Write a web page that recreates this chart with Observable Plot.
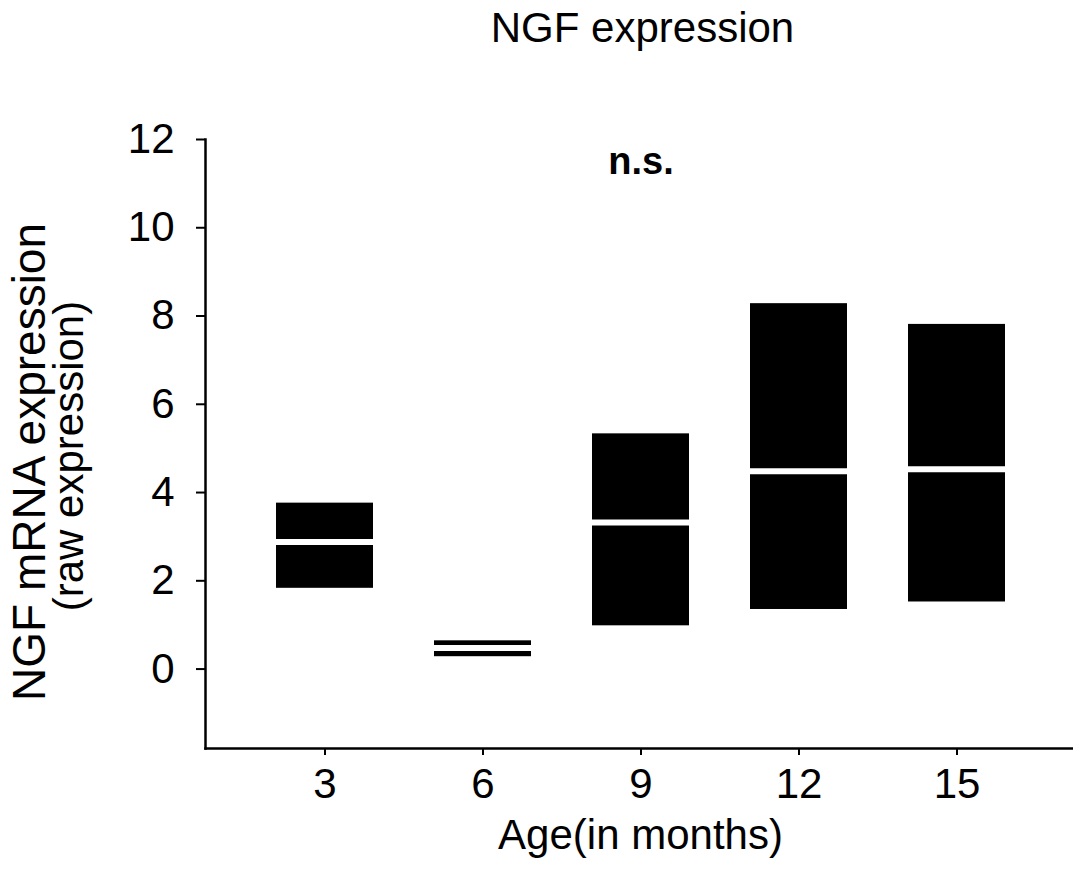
<!DOCTYPE html>
<html>
<head>
<meta charset="utf-8">
<script src="https://cdn.jsdelivr.net/npm/d3@7"></script>
<script src="https://cdn.jsdelivr.net/npm/@observablehq/plot@0.6"></script>
<style>
  html, body { margin: 0; padding: 0; background: white; }
</style>
</head>
<body>
<div id="chart"></div>
<script>
// Data
const ages = [3, 6, 9, 12, 15];
const q1 = [1.83, 0.28, 0.98, 1.35, 1.52];
const medians = [2.88, 0.48, 3.32, 4.48, 4.53];
const q3 = [3.76, 0.64, 5.33, 8.28, 7.81];
const yTicks = [0, 2, 4, 6, 8, 10, 12];

const title = "NGF expression";
const yTitle1 = "NGF mRNA expression";
const yTitle2 = "(raw expression)";
const xTitle = "Age(in months)";
const note = "n.s.";
const noteAge = 9;

const data = ages.map((a, i) => ({age: a, q1: q1[i], median: medians[i], q3: q3[i]}));

const font = "'Liberation Sans', Arial, Helvetica, sans-serif";

const chart = Plot.plot({
  width: 1073,
  height: 869,
  marginLeft: 205,
  marginRight: 0,
  marginTop: 139,
  marginBottom: 121,
  style: {fontFamily: font, fontSize: "42px", color: "black", background: "white", overflow: "visible"},
  x: {type: "band", domain: ages, paddingInner: 0.3856, paddingOuter: 0.427, align: 0.51, label: null},
  y: {domain: [-1.8, 12], label: null},
  marks: [
    Plot.barY(data, {x: "age", y1: "q1", y2: "q3", fill: "black"}),
    Plot.tickY(data, {x: "age", y: "median", stroke: "white", strokeWidth: 6}),
    Plot.frame({anchor: "left", strokeWidth: 2.5}),
    Plot.frame({anchor: "bottom", strokeWidth: 2.5}),
    Plot.axisY({ticks: yTicks, tickSize: 9, tickPadding: 22, strokeWidth: 2, fontSize: 42, label: null}),
    Plot.axisX({tickSize: 7, tickPadding: 13, strokeWidth: 2, fontSize: 42, label: null}),
    Plot.text([title], {frameAnchor: "top", dx: 3, dy: -98, lineAnchor: "bottom", fontSize: 42}),
    Plot.text([note], {x: [noteAge], frameAnchor: "top", dy: 34, lineAnchor: "bottom", fontSize: 38, fontWeight: "bold"}),
    Plot.text([xTitle], {frameAnchor: "bottom", dx: 1, dy: 100, lineAnchor: "bottom", fontSize: 42}),
    Plot.text([yTitle1], {frameAnchor: "left", dx: -161, dy: 18, rotate: -90, lineAnchor: "bottom", textAnchor: "middle", fontSize: 46}),
    Plot.text([yTitle2], {frameAnchor: "left", dx: -123, dy: 12, rotate: -90, lineAnchor: "bottom", textAnchor: "middle", fontSize: 42})
  ]
});
document.getElementById("chart").appendChild(chart);
</script>
</body>
</html>
